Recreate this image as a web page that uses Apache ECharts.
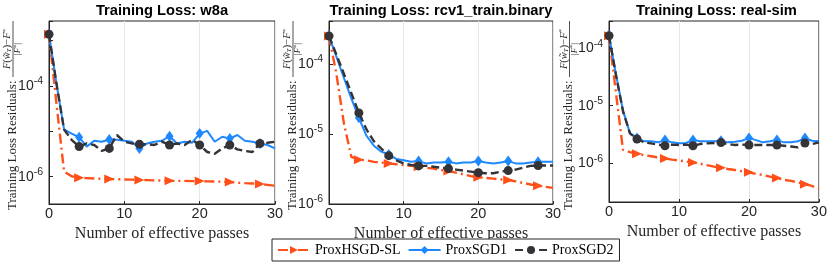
<!DOCTYPE html>
<html><head><meta charset="utf-8">
<script src="https://cdn.jsdelivr.net/npm/echarts@6/dist/echarts.min.js"></script>
<style>html,body{margin:0;padding:0;background:#fff}#c{width:830px;height:263px}</style>
</head><body><div id="c"></div>
<script>
// ---- data ----
const passes = [0,1,2,3,4,5,6,7,8,9,10,11,12,13,14,15,16,17,18,19,20,21,22,23,24,25,26,27,28,29,30];
const seriesNames = ['ProxHSGD-SL','ProxSGD1','ProxSGD2'];
const panelTitles = ['Training Loss: w8a','Training Loss: rcv1_train.binary','Training Loss: real-sim'];
const xTicks = [0,10,20,30];
const yTickExp = [[-4,-6],[-4,-5,-6],[-4,-5,-6]];
const yGridExp = [[-4,-6],[-4,-5],[-4,-5,-6]];
const yRange = [[2.5e-7,2.7e-3],[1e-6,4.1e-4],[2.1e-7,3.0e-4]];

const w8a_HSGD = [1.38e-3,4.0e-5,1.29e-6,1.02e-6,9.5e-7,9.3e-7,9.1e-7,9.0e-7,8.9e-7,8.8e-7,8.7e-7,8.6e-7,8.5e-7,8.4e-7,8.3e-7,8.2e-7,8.1e-7,8.1e-7,8.1e-7,8.0e-7,8.0e-7,7.9e-7,7.8e-7,7.8e-7,7.6e-7,7.4e-7,7.2e-7,7.1e-7,6.9e-7,6.6e-7,6.3e-7];
const w8a_SGD1 = [1.38e-3,1.1e-4,1.1e-5,8.9e-6,7.4e-6,4.6e-6,6.2e-6,5.9e-6,6.6e-6,6.5e-6,6.2e-6,5.9e-6,4.2e-6,5.4e-6,5.9e-6,6.2e-6,7.8e-6,5.4e-6,5.9e-6,5.6e-6,8.9e-6,1.02e-5,5.9e-6,7.6e-6,6.9e-6,8.3e-6,6.2e-6,5.9e-6,5.4e-6,5.0e-6,4.2e-6];
const w8a_SGD2 = [1.38e-3,1.1e-4,1.1e-5,6.5e-6,4.6e-6,5.4e-6,5.0e-6,3.7e-6,4.2e-6,8.3e-6,5.9e-6,5.4e-6,5.2e-6,5.2e-6,5.0e-6,5.9e-6,5.0e-6,5.4e-6,5.0e-6,6.5e-6,5.0e-6,3.5e-6,3.2e-6,4.2e-6,5.0e-6,4.0e-6,3.7e-6,3.5e-6,5.4e-6,5.6e-6,5.9e-6];

const rcv1_HSGD = [2.5e-4,7.1e-5,1.41e-5,4.7e-6,4.3e-6,4.2e-6,4.0e-6,3.9e-6,3.8e-6,3.7e-6,3.6e-6,3.5e-6,3.4e-6,3.3e-6,3.2e-6,3.05e-6,2.95e-6,2.8e-6,2.65e-6,2.5e-6,2.4e-6,2.35e-6,2.3e-6,2.25e-6,2.2e-6,2.1e-6,2.0e-6,1.9e-6,1.82e-6,1.76e-6,1.7e-6];
const rcv1_SGD1 = [2.5e-4,1.26e-4,6.3e-5,3.2e-5,1.7e-5,9.5e-6,6.8e-6,5.6e-6,5.1e-6,4.4e-6,4.2e-6,4.0e-6,4.1e-6,3.8e-6,3.9e-6,3.9e-6,4.0e-6,3.8e-6,3.9e-6,3.9e-6,4.1e-6,3.9e-6,3.8e-6,3.9e-6,4.1e-6,3.8e-6,3.8e-6,3.9e-6,4.0e-6,4.0e-6,4.0e-6];
const rcv1_SGD2 = [2.5e-4,1.35e-4,7.2e-5,3.8e-5,2.0e-5,1.17e-5,7.9e-6,6.2e-6,4.9e-6,4.2e-6,3.8e-6,3.6e-6,3.5e-6,3.5e-6,3.4e-6,3.3e-6,3.2e-6,3.1e-6,3.0e-6,2.9e-6,2.8e-6,2.75e-6,2.75e-6,2.9e-6,3.0e-6,3.1e-6,3.3e-6,3.5e-6,3.55e-6,3.55e-6,3.55e-6];

const rs_HSGD = [1.66e-4,1.66e-5,1.70e-6,1.55e-6,1.45e-6,1.38e-6,1.32e-6,1.26e-6,1.20e-6,1.15e-6,1.11e-6,1.07e-6,1.02e-6,9.8e-7,9.2e-7,8.7e-7,8.3e-7,7.9e-7,7.6e-7,7.2e-7,6.9e-7,6.5e-7,6.2e-7,5.8e-7,5.5e-7,5.1e-7,4.9e-7,4.6e-7,4.3e-7,4.0e-7,3.6e-7];
const rs_SGD1 = [1.66e-4,3.5e-5,8.3e-6,3.3e-6,2.75e-6,2.40e-6,2.40e-6,2.30e-6,2.52e-6,2.30e-6,2.21e-6,2.24e-6,2.52e-6,2.40e-6,2.40e-6,2.40e-6,2.45e-6,2.30e-6,2.35e-6,2.45e-6,2.75e-6,2.52e-6,2.30e-6,2.40e-6,2.52e-6,2.30e-6,2.30e-6,2.40e-6,2.75e-6,2.45e-6,2.40e-6];
const rs_SGD2 = [1.66e-4,3.4e-5,8.0e-6,3.3e-6,2.63e-6,2.30e-6,2.21e-6,2.10e-6,2.01e-6,2.10e-6,2.07e-6,2.10e-6,2.01e-6,2.15e-6,2.21e-6,2.24e-6,2.28e-6,2.15e-6,2.07e-6,2.10e-6,2.07e-6,2.07e-6,2.07e-6,2.07e-6,2.07e-6,2.01e-6,1.95e-6,1.88e-6,2.24e-6,2.15e-6,2.30e-6];

const panelData = [[w8a_HSGD,w8a_SGD1,w8a_SGD2],[rcv1_HSGD,rcv1_SGD1,rcv1_SGD2],[rs_HSGD,rs_SGD1,rs_SGD2]];

// ---- layout / style ----
const grids = [
  {left:49, top:21, width:226, height:183},
  {left:329, top:21, width:224, height:183},
  {left:609, top:21, width:215, height:181}
];
const ylabelX = [12.5, 292.5, 569];
const AX = '#262626';
const SERIF = '"Liberation Serif","Times New Roman",serif';
const SANS = '"Liberation Sans",Arial,sans-serif';
const sty = [
  {color:'#FF5019', type:[10,4,2,4], width:2.4, symbol:'triangle', size:[9,10], rotate:-90},
  {color:'#1E88FF', type:'solid', width:2, symbol:'diamond', size:[8,11], rotate:0},
  {color:'#333338', type:[8,4], width:2.4, symbol:'circle', size:9, rotate:0}
];

const chart = echarts.init(document.getElementById('c'), null, {renderer:'canvas'});

const xAxis = [], yAxis = [], series = [], title = [], graphic = [];
grids.forEach((g,i) => {
  title.push({text:panelTitles[i], left:g.left + g.width/2, top:3, textAlign:'center', padding:0,
    textStyle:{fontFamily:SANS, fontSize:14.7, fontWeight:'bold', color:'#000'}});
  xAxis.push({type:'value', gridIndex:i, min:0, max:30, interval:10,
    axisLine:{show:true, lineStyle:{color:AX, width:1}},
    axisTick:{show:true, inside:true, length:3, lineStyle:{color:AX}},
    axisLabel:{color:AX, fontFamily:SANS, fontSize:14.5, margin:2,
      formatter:v => xTicks.includes(v) ? String(v) : ''},
    splitLine:{show:true, lineStyle:{color:'#e6e6e6', width:1}},
    name:'Number of effective passes', nameLocation:'middle', nameGap:19,
    nameTextStyle:{fontFamily:SERIF, fontSize:16, color:AX}});
  const exps = yTickExp[i];
  yAxis.push({type:'log', logBase:10, gridIndex:i, min:yRange[i][0], max:yRange[i][1],
    axisLine:{show:true, lineStyle:{color:AX, width:1}},
    axisTick:{show:true, inside:true, length:4, lineStyle:{color:AX}},
    splitLine:{show:false},
    axisLabel:{margin:6, color:AX,
      formatter:v => {
        const l = Math.log10(v), e = Math.round(l);
        if (Math.abs(l-e) < 1e-6 && exps.includes(e)) return '{b|10}{s|' + e + '}';
        return '';
      },
      rich:{b:{fontFamily:SANS, fontSize:14, color:AX}, s:{fontFamily:SANS, fontSize:10.5, color:AX, padding:[0,0,9,0]}}}});
  // grid lines through the library's scale
  series.push({type:'line', xAxisIndex:i, yAxisIndex:i, data:[], silent:true, z:1,
    markLine:{silent:true, symbol:'none', label:{show:false}, animation:false,
      lineStyle:{color:'#e6e6e6', width:1, type:'solid'},
      data:yGridExp[i].map(e => ({yAxis:Math.pow(10,e)}))}});
  panelData[i].forEach((arr,k) => {
    const s = sty[k];
    series.push({type:'line', name:seriesNames[k], xAxisIndex:i, yAxisIndex:i, z:3+ (k===1?0:k),
      symbol:s.symbol, symbolSize:s.size, symbolRotate:s.rotate, showAllSymbol:true,
      lineStyle:{color:s.color, width:s.width, type:s.type},
      itemStyle:{color:s.color},
      animation:false,
      data:passes.map((x,j) => j % 4 === 0 ? [x, arr[j]] : {value:[x, arr[j]], symbol:'none'})});
  });
  // y-axis label with fraction (text)
  graphic.push({type:'group', x:ylabelX[i], y:210, rotation:Math.PI/2, silent:true, children:[
    {type:'text', x:0, y:0, style:{text:'Training Loss Residuals:', fontFamily:SERIF, fontSize:13, fill:AX, align:'left', verticalAlign:'middle'}},
    {type:'text', x:161, y:-5, style:{text:'{i|F}{n|(}{i|w\u0303}{b|T}{n|)\u2212}{i|F}{p|*}', align:'center', verticalAlign:'middle',
      rich:{i:{fontFamily:SERIF, fontStyle:'italic', fontSize:10.5, fill:AX}, n:{fontFamily:SERIF, fontSize:10.5, fill:AX},
            b:{fontFamily:SERIF, fontStyle:'italic', fontSize:7, fill:AX, padding:[4,0,0,0]}, p:{fontFamily:SERIF, fontSize:7, fill:AX, padding:[0,0,5,0]}}}},
    {type:'line', shape:{x1:133, y1:0.5, x2:189, y2:0.5}, style:{stroke:AX, lineWidth:0.8}},
    {type:'text', x:161, y:5.5, style:{text:'{n||}{i|F}{p|*}{n||}', align:'center', verticalAlign:'middle',
      rich:{i:{fontFamily:SERIF, fontStyle:'italic', fontSize:9, fill:AX}, n:{fontFamily:SERIF, fontSize:9, fill:AX},
            p:{fontFamily:SERIF, fontSize:6.5, fill:AX, padding:[0,0,4,0]}}}}
  ]});
});

chart.setOption({
  animation:false,
  backgroundColor:'#fff',
  title,
  grid: grids.map(g => Object.assign({show:true, borderColor:AX, borderWidth:1, backgroundColor:'transparent', containLabel:false}, g)),
  xAxis, yAxis, series, graphic,
  legend:{data:seriesNames, left:272, top:239, orient:'horizontal', itemWidth:32, itemHeight:10, itemGap:7,
    padding:[4,6,4,5], borderColor:AX, borderWidth:1, backgroundColor:'#fff',
    textStyle:{fontFamily:SERIF, fontSize:14, color:'#000'}}
});
</script></body></html>
